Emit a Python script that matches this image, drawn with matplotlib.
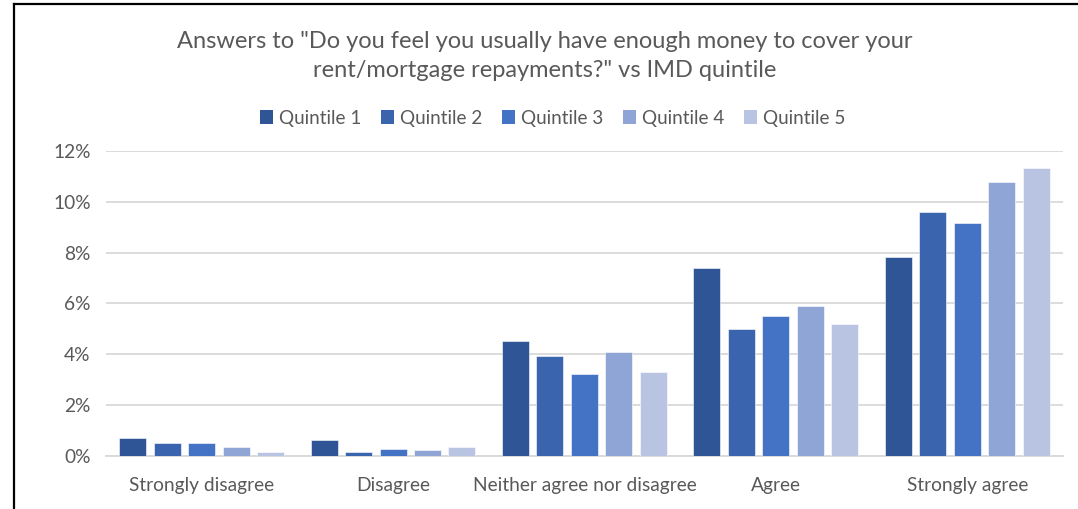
import numpy as np
import matplotlib.pyplot as plt
from matplotlib.lines import Line2D
from matplotlib.patches import Patch

plt.rcParams['font.family'] = ['Lato', 'DejaVu Sans']

categories = ['Strongly disagree', 'Disagree', 'Neither agree nor disagree', 'Agree', 'Strongly agree']
series_names = ['Quintile 1', 'Quintile 2', 'Quintile 3', 'Quintile 4', 'Quintile 5']
q1 = [0.70, 0.62, 4.50, 7.38, 7.81]
q2 = [0.50, 0.14, 3.94, 4.98, 9.58]
q3 = [0.50, 0.28, 3.23, 5.49, 9.15]
q4 = [0.34, 0.21, 4.08, 5.91, 10.76]
q5 = [0.14, 0.34, 3.30, 5.20, 11.33]
yticks = [0, 2, 4, 6, 8, 10, 12]

colors = ['#2F5597', '#3A64AD', '#4472C4', '#8FA5D6', '#B9C4E3']
text_col = '#595959'
grid_col = '#D9D9D9'

fig = plt.figure(figsize=(10.78, 5.09), dpi=100)
ax = fig.add_axes([0.0983, 0.1047, 0.8877, 0.5988])

x = np.arange(len(categories))
pitch = 0.18
width = 0.141
for i, vals in enumerate([q1, q2, q3, q4, q5]):
    ax.bar(x + (i - 2) * pitch, vals, width, color=colors[i],
           edgecolor='white', linewidth=0.4, zorder=3)

ax.set_xlim(-0.5, len(categories) - 0.5)
ax.set_ylim(0, 12)
ax.set_yticks(yticks)
ax.set_yticklabels([f'{v}%' for v in yticks])
ax.set_xticks(x)
ax.set_xticklabels(categories)
ax.tick_params(length=0, labelsize=13.8, labelcolor=text_col)
ax.tick_params(axis='y', pad=11)
ax.tick_params(axis='x', pad=15)
ax.grid(axis='y', color=grid_col, linewidth=1.3, zorder=0)
for s in ['top', 'right', 'left']:
    ax.spines[s].set_visible(False)
ax.spines['bottom'].set_color(grid_col)
ax.spines['bottom'].set_linewidth(1.3)

fig.text(0.5055, 0.890, 'Answers to "Do you feel you usually have enough money to cover your\nrent/mortgage repayments?" vs IMD quintile',
         ha='center', va='center', fontsize=17, color=text_col, linespacing=1.5)

handles = [Patch(facecolor=c, edgecolor='none') for c in colors]
fig.legend(handles, series_names, loc='center', bbox_to_anchor=(0.5125, 0.768), ncol=5,
           frameon=False, fontsize=13.6, labelcolor=text_col, handlelength=0.7,
           handleheight=0.7, handletextpad=0.3, columnspacing=1.05)

# chart frame (left and top edges visible in the crop)
fig.add_artist(Line2D([14 / 1078, 14 / 1078], [0, 1 - 4 / 509], color='black', lw=1.6))
fig.add_artist(Line2D([14 / 1078, 1], [1 - 4 / 509, 1 - 4 / 509], color='black', lw=1.6))

fig.savefig('out.png', dpi=100)
